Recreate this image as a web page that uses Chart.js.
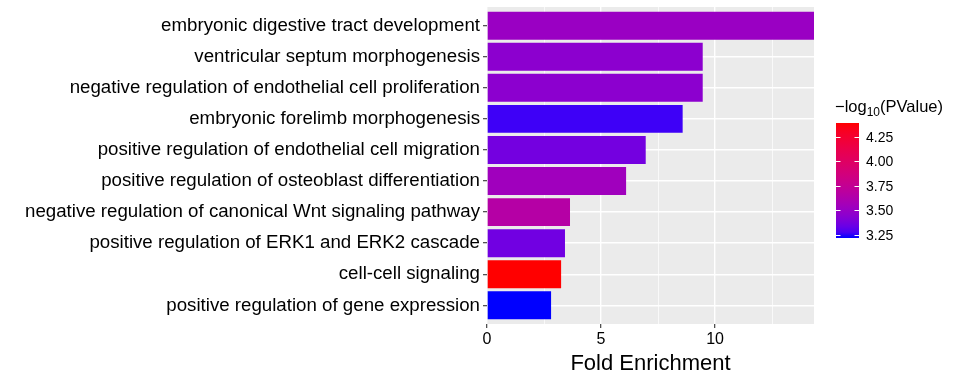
<!DOCTYPE html>
<html>
<head>
<meta charset="utf-8">
<script src="https://cdn.jsdelivr.net/npm/chart.js@4.4.1/dist/chart.umd.min.js"></script>
<style>
  html, body { margin: 0; padding: 0; background: #fff; }
  canvas { display: block; }
</style>
</head>
<body>
<canvas id="chart" width="960" height="384"></canvas>
<script>
// ---- data (top to bottom) ----
const terms = [
  "embryonic digestive tract development",
  "ventricular septum morphogenesis",
  "negative regulation of endothelial cell proliferation",
  "embryonic forelimb morphogenesis",
  "positive regulation of endothelial cell migration",
  "positive regulation of osteoblast differentiation",
  "negative regulation of canonical Wnt signaling pathway",
  "positive regulation of ERK1 and ERK2 cascade",
  "cell-cell signaling",
  "positive regulation of gene expression"
];
const foldEnrichment = [14.34, 9.46, 9.46, 8.58, 6.96, 6.10, 3.64, 3.42, 3.25, 2.81];
const negLog10P = [3.51, 3.45, 3.45, 3.26, 3.37, 3.54, 3.66, 3.36, 4.39, 3.22];
const xMajorTicks = [0, 5, 10];
const xMinorTicks = [2.5, 7.5, 12.5];
const legendTicks = [3.25, 3.50, 3.75, 4.00, 4.25];

// ---- colour ramp blue -> red, interpolated in CIELAB like ggplot ----
const lin = c => { c /= 255; return c <= 0.04045 ? c / 12.92 : Math.pow((c + 0.055) / 1.055, 2.4); };
const gam = c => { c = c <= 0.0031308 ? 12.92 * c : 1.055 * Math.pow(c, 1 / 2.4) - 0.055; return Math.round(Math.min(1, Math.max(0, c)) * 255); };
function toLab(rgb) {
  const [R, G, B] = rgb.map(lin);
  const f = t => t > 0.008856 ? Math.cbrt(t) : 7.787 * t + 16 / 116;
  const fx = f((0.4124 * R + 0.3576 * G + 0.1805 * B) / 0.95047);
  const fy = f(0.2126 * R + 0.7152 * G + 0.0722 * B);
  const fz = f((0.0193 * R + 0.1192 * G + 0.9505 * B) / 1.08883);
  return [116 * fy - 16, 500 * (fx - fy), 200 * (fy - fz)];
}
function fromLab([L, a, b]) {
  const fy = (L + 16) / 116, fx = fy + a / 500, fz = fy - b / 200;
  const finv = t => t * t * t > 0.008856 ? t * t * t : (t - 16 / 116) / 7.787;
  const X = 0.95047 * finv(fx), Y = finv(fy), Z = 1.08883 * finv(fz);
  const r = 3.2406 * X - 1.5372 * Y - 0.4986 * Z;
  const g = -0.9689 * X + 1.8758 * Y + 0.0415 * Z;
  const bl = 0.0557 * X - 0.2040 * Y + 1.0570 * Z;
  return `rgb(${gam(r)},${gam(g)},${gam(bl)})`;
}
const labLow = toLab([0, 0, 255]), labHigh = toLab([255, 0, 0]);
const pMin = Math.min(...negLog10P), pMax = Math.max(...negLog10P);
function rampColor(v) {
  const t = (v - pMin) / (pMax - pMin);
  return fromLab(labLow.map((l, i) => l + (labHigh[i] - l) * t));
}

// ---- plugins ----
const panelBg = {
  id: "panelBg",
  beforeDraw(chart) {
    const { ctx, chartArea: a } = chart;
    ctx.save();
    ctx.fillStyle = "#EBEBEB";
    ctx.fillRect(a.left, a.top, a.right - a.left, a.bottom - a.top);
    ctx.restore();
  }
};

const colorLegend = {
  id: "colorLegend",
  afterDraw(chart) {
    const ctx = chart.ctx;
    const x0 = 836, w = 23, top = 123, bottom = 238;
    ctx.save();
    // title  −log10(PValue)
    ctx.fillStyle = "#000";
    ctx.textBaseline = "alphabetic";
    ctx.font = "16.5px 'Liberation Sans', Arial, sans-serif";
    let x = 835;
    ctx.fillText("\u2212log", x, 111.5);
    x += ctx.measureText("\u2212log").width;
    ctx.font = "12px 'Liberation Sans', Arial, sans-serif";
    ctx.fillText("10", x, 115.5);
    x += ctx.measureText("10").width;
    ctx.font = "16.5px 'Liberation Sans', Arial, sans-serif";
    ctx.fillText("(PValue)", x, 111.5);
    // gradient bar
    const grad = ctx.createLinearGradient(0, bottom, 0, top);
    for (let i = 0; i <= 20; i++) grad.addColorStop(i / 20, rampColor(pMin + (pMax - pMin) * i / 20));
    ctx.fillStyle = grad;
    ctx.fillRect(x0, top, w, bottom - top);
    // ticks + labels
    ctx.strokeStyle = "#fff";
    ctx.lineWidth = 1;
    ctx.font = "14px 'Liberation Sans', Arial, sans-serif";
    ctx.textBaseline = "middle";
    ctx.fillStyle = "#000";
    legendTicks.forEach(v => {
      const y = Math.round(bottom - (v - pMin) / (pMax - pMin) * (bottom - top)) + 0.5;
      ctx.beginPath();
      ctx.moveTo(x0, y); ctx.lineTo(x0 + 4.5, y);
      ctx.moveTo(x0 + w - 4.5, y); ctx.lineTo(x0 + w, y);
      ctx.stroke();
      ctx.fillText(v.toFixed(2), 866, y + 0.5);
    });
    ctx.restore();
  }
};

// ---- chart ----
const font = "'Liberation Sans', Arial, sans-serif";
new Chart(document.getElementById("chart"), {
  type: "bar",
  data: {
    labels: terms,
    datasets: [{
      data: foldEnrichment,
      backgroundColor: negLog10P.map(rampColor),
      borderWidth: 0,
      barPercentage: 0.9,
      categoryPercentage: 1.0
    }]
  },
  options: {
    indexAxis: "y",
    responsive: false,
    animation: false,
    devicePixelRatio: 1,
    layout: { padding: { left: 0, right: 146, top: 7, bottom: 0 } },
    plugins: { legend: { display: false }, tooltip: { enabled: false } },
    scales: {
      x: {
        type: "linear",
        min: 0,
        max: Math.max(...foldEnrichment),
        afterBuildTicks: s => { s.ticks = [...xMajorTicks, ...xMinorTicks].sort((a, b) => a - b).map(v => ({ value: v })); },
        afterFit: s => { s.height = 60; s.paddingLeft = 0; s.paddingRight = 0; },
        border: { display: false },
        grid: {
          color: "#fff",
          lineWidth: c => (c.tick && xMajorTicks.includes(c.tick.value)) ? 1.4 : 0.7,
          tickColor: c => (c.tick && xMajorTicks.includes(c.tick.value)) ? "#333" : "rgba(0,0,0,0)",
          tickLength: 4,
          tickWidth: 1.1
        },
        ticks: {
          color: "#000",
          font: { family: font, size: 16 },
          padding: 2,
          maxRotation: 0,
          autoSkip: false,
          callback: v => xMajorTicks.includes(v) ? String(v) : ""
        },
        title: {
          display: true,
          text: "Fold Enrichment",
          color: "#000",
          font: { family: font, size: 22 },
          padding: { top: 0, bottom: 7 }
        }
      },
      y: {
        offset: false,
        // ggplot-style discrete expansion: 0.6 category units on each side
        afterBuildTicks: s => { s._startValue = -0.6; s._valueRange = terms.length - 1 + 1.2; },
        afterFit: s => { s.width = 487; s.paddingTop = 0; s.paddingBottom = 0; },
        border: { display: false },
        grid: {
          offset: false,
          color: "#fff",
          lineWidth: 1.4,
          tickColor: "#333",
          tickLength: 4,
          tickWidth: 1.1
        },
        ticks: {
          color: "#000",
          font: { family: font, size: 18.7 },
          padding: 3,
          autoSkip: false
        }
      }
    }
  },
  plugins: [panelBg, colorLegend]
});
</script>
</body>
</html>
